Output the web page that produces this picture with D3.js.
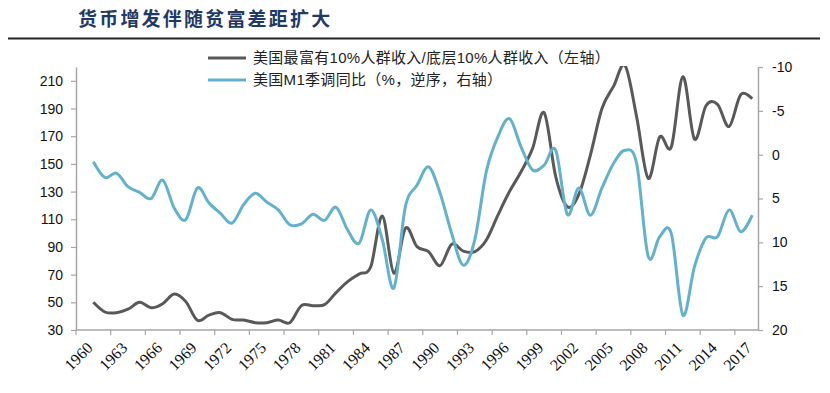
<!DOCTYPE html>
<html>
<head>
<meta charset="utf-8">
<script src="https://cdn.jsdelivr.net/npm/d3@7"></script>
<style>
  html, body { margin: 0; padding: 0; background: #fff; }
  svg { display: block; }
</style>
</head>
<body>
<svg id="chart" width="830" height="393"></svg>
<script>
// ---------- DATA ----------
const categories = d3.range(1960, 2019);           // category axis 1960..2018
const years = d3.range(1961, 2019);                // data years 1961..2018
const tickYears = d3.range(1960, 2019, 3);         // labelled every 3 years
const leftTicks = d3.range(30, 211, 20);
const rightTicks = [-10, -5, 0, 5, 10, 15, 20];

// Top 10% / bottom 10% income ratio (left axis)
const incomeRatio = [
  50, 43, 42.5, 45, 50, 46, 49, 56, 50.5, 37,
  40.8, 42.5, 37.7, 37.2, 35.3, 35.3, 37.2, 35.3, 47.6, 47.6,
  48.3, 57, 65, 70.5, 75.7, 112.4, 71, 103.5, 90.2, 86.6,
  76.5, 92, 87, 86.6, 95, 113, 130, 144.3, 161.2, 187,
  140.8, 119, 128, 156.4, 190, 206, 221, 184, 139.6, 169.5,
  162.3, 213, 168, 192, 193, 177, 200, 197
];
// US M1 YoY, %, reversed (right axis)
const m1Yoy = [
  0.8, 2.6, 2.1, 3.65, 4.3, 5.0, 2.9, 6.1, 7.4, 3.8,
  5.5, 6.7, 7.8, 5.7, 4.4, 5.4, 6.3, 8.0, 7.9, 6.8,
  7.5, 6.0, 8.6, 10.1, 6.3, 9.7, 15.2, 5.9, 3.5, 1.4,
  4.4, 9.0, 12.6, 9.7, 1.9, -2.05, -4.1, -0.9, 1.75, 1.2,
  -0.5, 6.8, 3.8, 6.9, 3.8, 1.0, -0.5, 1.0, 11.6, 9.35,
  9.0, 18.3, 12.8, 9.5, 9.35, 6.3, 8.8, 6.9
];

const titleText = "货币增发伴随贫富差距扩大";
const legendLabels = ["美国最富有10%人群收入/底层10%人群收入（左轴）", "美国M1季调同比（%，逆序，右轴）"];
const colors = ["#595959", "#62b2cf"];

// ---------- LAYOUT ----------
const L = 76, R = 758, T = 67, B = 330;
const svg = d3.select("#chart");

const x = d3.scaleBand().domain(categories).range([L, R]).padding(0);
const xc = yr => x(yr) + x.bandwidth() / 2;
const yL = d3.scaleLinear().domain([30, 220]).range([B, T]);
const yR = d3.scaleLinear().domain([-10, 20]).range([T, B]);

// Title
svg.append("text")
  .attr("x", 78).attr("y", 26)
  .attr("font-family", "'Noto Sans CJK SC', sans-serif")
  .attr("font-size", 19).attr("font-weight", 700)
  .attr("letter-spacing", 2.2)
  .attr("fill", "#1f3a66")
  .text(titleText);
svg.append("line")
  .attr("x1", 8).attr("x2", 820).attr("y1", 38.5).attr("y2", 38.5)
  .attr("stroke", "#222").attr("stroke-width", 2);

// Axes
const axisColor = "#a6a6a6";
const numFont = "'Liberation Sans', Arial, sans-serif";

const leftAxis = svg.append("g").attr("transform", `translate(${L},0)`)
  .call(d3.axisLeft(yL).tickValues(leftTicks).tickSize(5).tickSizeOuter(0).tickPadding(8));
const rightAxis = svg.append("g").attr("transform", `translate(${R},0)`)
  .call(d3.axisRight(yR).tickValues(rightTicks).tickSize(5).tickSizeOuter(0).tickPadding(9)
        .tickFormat(d3.format("d")));
[leftAxis, rightAxis].forEach(g => {
  g.select(".domain").attr("stroke", axisColor).attr("stroke-width", 1.5);
  g.selectAll(".tick line").attr("stroke", axisColor).attr("stroke-width", 1.2);
  g.selectAll(".tick text").attr("font-family", numFont).attr("font-size", 14).attr("fill", "#111");
});
rightAxis.selectAll(".tick text").text(d => d < 0 ? "-" + Math.abs(d) : d);

// x axis
const xg = svg.append("g");
xg.append("line").attr("x1", L).attr("x2", R).attr("y1", B).attr("y2", B)
  .attr("stroke", axisColor).attr("stroke-width", 1.5);
xg.selectAll("line.tk").data(tickYears).join("line").attr("class", "tk")
  .attr("x1", d => x(d)).attr("x2", d => x(d)).attr("y1", B).attr("y2", B + 5)
  .attr("stroke", axisColor).attr("stroke-width", 1.2);
xg.selectAll("text").data(tickYears).join("text")
  .attr("transform", d => `translate(${xc(d) + 4},${B + 11}) rotate(-45)`)
  .attr("text-anchor", "end").attr("dy", "0.7em")
  .attr("font-family", "'Liberation Serif', 'Times New Roman', serif")
  .attr("font-size", 16).attr("fill", "#111")
  .text(d => d);

// Clip
svg.append("clipPath").attr("id", "plotclip")
  .append("rect").attr("x", L).attr("y", T - 1).attr("width", R - L).attr("height", B - T + 2);

const curve = d3.curveCardinal.tension(0);
const lineL = d3.line().x((d, i) => xc(years[i])).y(d => yL(d)).curve(curve);
const lineR = d3.line().x((d, i) => xc(years[i])).y(d => yR(d)).curve(curve);

const plot = svg.append("g").attr("clip-path", "url(#plotclip)");
plot.append("path").datum(incomeRatio).attr("d", lineL)
  .attr("fill", "none").attr("stroke", colors[0]).attr("stroke-width", 3).attr("stroke-linejoin", "round");
plot.append("path").datum(m1Yoy).attr("d", lineR)
  .attr("fill", "none").attr("stroke", colors[1]).attr("stroke-width", 3).attr("stroke-linejoin", "round");

// Legend
const lg = svg.append("g");
legendLabels.forEach((lab, i) => {
  const yy = 58 + i * 22;
  lg.append("line").attr("x1", 208).attr("x2", 246).attr("y1", yy).attr("y2", yy)
    .attr("stroke", colors[i]).attr("stroke-width", 3);
  lg.append("text").attr("x", 253).attr("y", yy).attr("dy", "0.36em")
    .attr("font-family", "'Liberation Sans', 'Noto Sans CJK SC', sans-serif")
    .attr("font-size", 15).attr("letter-spacing", 0.3).attr("fill", "#222")
    .text(lab);
});
</script>
</body>
</html>
